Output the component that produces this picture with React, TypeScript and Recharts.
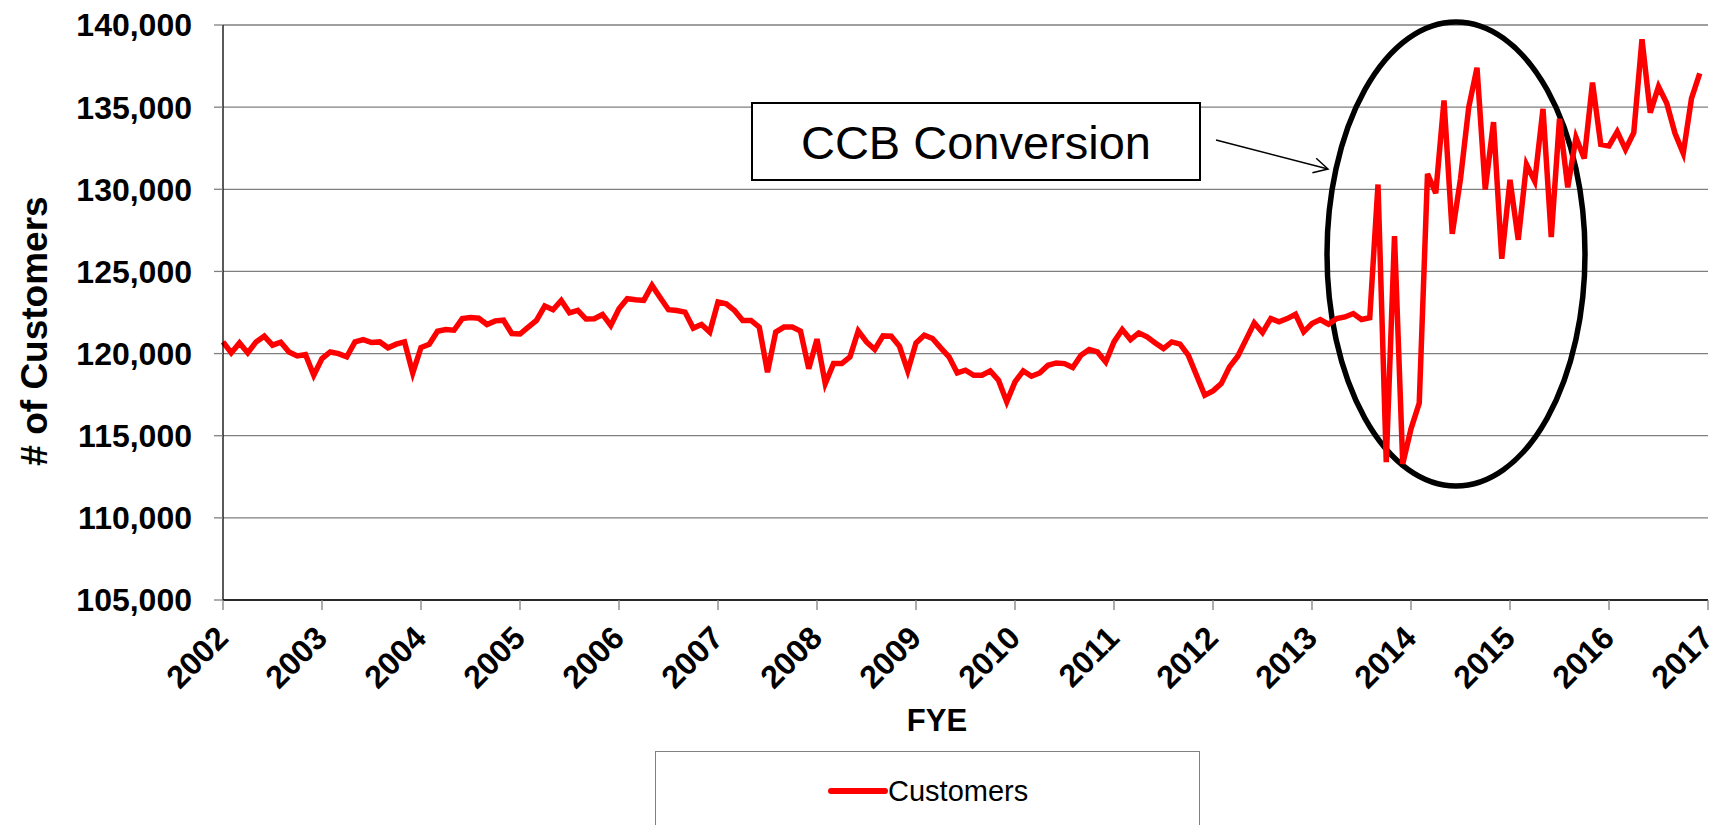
import React from 'react';
import { LineChart, Line, XAxis, YAxis, CartesianGrid, Legend, Customized } from 'recharts';

const FONT = '"Liberation Sans", Arial, Helvetica, sans-serif';

const startYear = 2002;
const yearTicks = [2002, 2003, 2004, 2005, 2006, 2007, 2008, 2009, 2010, 2011, 2012, 2013, 2014, 2015, 2016, 2017];
const yTicks = [105000, 110000, 115000, 120000, 125000, 130000, 135000, 140000];
const seriesName = 'Customers';
const xTitle = 'FYE';
const yTitle = '# of Customers';
const annotationText = 'CCB Conversion';

// monthly customer counts, one row per fiscal year (Jan..Dec)
const customers = [
  120710, 120040, 120650, 120040, 120710, 121055, 120510, 120690, 120100, 119860, 119940, 118680,
  119700, 120100, 120000, 119800, 120710, 120850, 120670, 120710, 120350, 120570, 120710, 118820,
  120370, 120570, 121360, 121460, 121420, 122130, 122190, 122150, 121770, 121990, 122030, 121220,
  121190, 121610, 122020, 122890, 122670, 123235, 122480, 122625, 122100, 122120, 122380, 121710,
  122730, 123340, 123275, 123235, 124150, 123400, 122670, 122625, 122525, 121550, 121775, 121310,
  123135, 123030, 122625, 122020, 122020, 121610, 118870, 121310, 121610, 121610, 121370, 119075,
  120880, 118170, 119390, 119390, 119800, 121380, 120710, 120245, 121075, 121055, 120445, 118945,
  120650, 121115, 120915, 120345, 119800, 118820, 118985, 118680, 118680, 118945, 118375, 117060,
  118275, 118945, 118620, 118820, 119290, 119430, 119390, 119150, 119900, 120245, 120100, 119490,
  120710, 121460, 120850, 121260, 121015, 120650, 120305, 120710, 120570, 119900, 118680, 117465,
  117730, 118170, 119190, 119840, 120850, 121865, 121280, 122130, 121930, 122130, 122395, 121320,
  121825, 122070, 121785, 122130, 122230, 122435, 122070, 122177, 130293, 113392, 127148, 113290,
  115420, 116983, 130942, 129765, 135406, 127290, 130638, 135000, 137400, 129988, 134087, 125768,
  130577, 126925, 131510, 130496, 134899, 127087, 134290, 130120, 133150, 131870, 136490, 132736,
  132635, 133507, 132432, 133446, 139128, 134664, 136246, 135232, 133406, 132189, 135536, 137058,
];

const data = customers.map((v, i) => ({ t: startYear + i / 12, customers: v }));

const fmt = (v: number) => v.toLocaleString('en-US');

const XTick = (props: any) => {
  const { x, y, payload } = props;
  const ax = x + 7;
  const ay = y + 30;
  return (
    <text
      x={ax}
      y={ay}
      transform={`rotate(-45, ${ax}, ${ay})`}
      textAnchor="end"
      fill="#000"
      fontSize={32}
      fontWeight="bold"
      fontFamily={FONT}
    >
      {payload.value}
    </text>
  );
};

const XTitle = () => (
  <text x={937} y={720} textAnchor="middle" dominantBaseline="central" fontSize={31} fontWeight="bold" fontFamily={FONT} fill="#000">
    {xTitle}
  </text>
);

const YTitle = () => (
  <text
    x={34}
    y={331}
    transform="rotate(-90, 34, 331)"
    textAnchor="middle"
    dominantBaseline="central"
    fontSize={37}
    fontWeight="bold"
    fontFamily={FONT}
    fill="#000"
  >
    {yTitle}
  </text>
);

const LegendBox = () => (
  <div
    style={{
      position: 'relative',
      width: 545,
      height: 90,
      border: '1px solid #808080',
      boxSizing: 'border-box',
      background: '#fff',
    }}
  >
    <svg width={60} height={10} style={{ position: 'absolute', left: 172, top: 34 }}>
      <line x1={3} y1={5} x2={57} y2={5} stroke="#FF0000" strokeWidth={6} strokeLinecap="round" />
    </svg>
    <span
      style={{
        position: 'absolute',
        left: 232,
        top: 39,
        transform: 'translateY(-50%)',
        fontFamily: FONT,
        fontSize: 29,
        lineHeight: 1,
        color: '#000',
        whiteSpace: 'nowrap',
      }}
    >
      {seriesName}
    </span>
  </div>
);

const Overlay = () => (
  <g>
    <rect x={752} y={103} width={448} height={77} fill="#fff" stroke="#000" strokeWidth={2} />
    <text x={976} y={142} textAnchor="middle" dominantBaseline="central" fontSize={47} fontFamily={FONT} fill="#000">
      {annotationText}
    </text>
    <line x1={1216} y1={140} x2={1328} y2={169} stroke="#000" strokeWidth={1.5} />
    <polyline points="1312.4,172.7 1328,169 1316.2,158.2" fill="none" stroke="#000" strokeWidth={1.5} />
    <ellipse cx={1456} cy={254} rx={129} ry={232} fill="none" stroke="#000" strokeWidth={5.5} />
  </g>
);

export default function App() {
  return (
    <div
      style={{
        position: 'absolute',
        left: 0,
        top: 0,
        width: 1722,
        height: 825,
        overflow: 'hidden',
        background: '#fff',
      }}
    >
      <LineChart width={1722} height={825} data={data} margin={{ top: 25, right: 14, bottom: 0, left: 0 }}>
        <CartesianGrid horizontal vertical={false} stroke="#7f7f7f" strokeWidth={1.3} />
        <XAxis
          type="number"
          dataKey="t"
          domain={[2002, 2017]}
          ticks={yearTicks}
          interval={0}
          height={225}
          tickSize={10}
          tickMargin={0}
          axisLine={{ stroke: '#000', strokeWidth: 1.3 }}
          tickLine={{ stroke: '#808080', strokeWidth: 1.3 }}
          tick={<XTick />}
          label={<XTitle />}
        />
        <YAxis
          type="number"
          domain={[105000, 140000]}
          ticks={yTicks}
          interval={0}
          width={223}
          tickSize={9}
          tickMargin={22}
          tickFormatter={fmt}
          axisLine={{ stroke: '#000', strokeWidth: 1.3 }}
          tickLine={{ stroke: '#808080', strokeWidth: 1.3 }}
          tick={{ fill: '#000', fontSize: 32, fontWeight: 'bold', fontFamily: FONT }}
          label={<YTitle />}
        />
        <Line
          type="linear"
          dataKey="customers"
          name={seriesName}
          stroke="#FF0000"
          strokeWidth={5.5}
          dot={false}
          activeDot={false}
          isAnimationActive={false}
        />
        <Legend
          layout="horizontal"
          verticalAlign="middle"
          align="center"
          content={<LegendBox />}
          wrapperStyle={{ left: 655, top: 751, width: 545, height: 90, margin: 0 }}
        />
        <Customized component={<Overlay />} />
      </LineChart>
    </div>
  );
}
